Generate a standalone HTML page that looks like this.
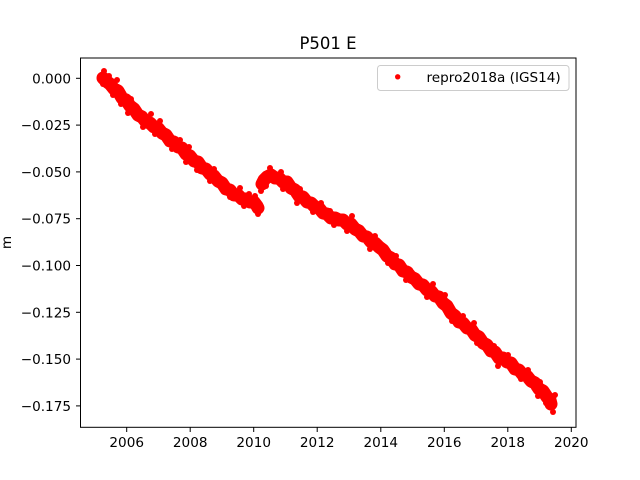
<!DOCTYPE html>
<html><head><meta charset="utf-8"><style>
html,body{margin:0;padding:0;background:#fff;}
svg{display:block;font-family:"DejaVu Sans","Liberation Sans",sans-serif;}
</style></head><body>
<svg width="640" height="480" viewBox="0 0 640 480" xmlns="http://www.w3.org/2000/svg">
<rect width="640" height="480" fill="#fff"/>
<g fill="none" stroke="#ff0000" stroke-width="13" stroke-linejoin="round" stroke-linecap="round">
<polyline points="103,78 106,81 110,84 114,89 118,91 122,98 126,100 130,106 134,109 138,115 142,117 146,122 150,123 154,127 158,128 162,133 166,135 170,141 174,142 178,147 182,148 186,154 190,156 194,161 198,162 202,168 206,169 210,174 214,176 218,181 222,183 226,189 230,190 234,195 238,195 242,199 246,199 250,202 254,202 257,206 258,208"/>
<polyline points="262,184 264,180 267,177 271,175 275,178 279,178 283,182 287,182 291,188 295,190 299,196 303,197 307,202 311,203 315,207 319,208 323,213 327,214 331,218 335,218 339,220 343,220 347,224 351,224 355,229 359,231 363,236 367,237 371,242 375,243 379,247 383,250 387,256 391,258 395,264 399,265 403,271 407,272 411,277 415,279 419,284 423,285 427,290 431,291 435,296 439,297 443,303 447,306 451,313 455,316 459,322 463,323 467,328 471,329 475,335 479,337 483,343 487,345 491,351 495,352 499,358 503,358 507,362 511,363 515,369 519,370 523,375 527,376 531,381 535,383 539,389 543,391 547,397 550,400 551,404"/>
</g>
<g fill="#ff0000">
<circle cx="104" cy="71" r="3"/><circle cx="109" cy="76" r="3"/><circle cx="117" cy="80" r="3"/><circle cx="103" cy="84" r="3"/><circle cx="113" cy="95" r="3"/><circle cx="121" cy="104" r="3"/><circle cx="131" cy="99" r="3"/><circle cx="128" cy="113" r="3"/><circle cx="143" cy="127" r="3"/><circle cx="151" cy="114" r="3"/><circle cx="160" cy="121" r="3"/><circle cx="155" cy="134" r="3"/><circle cx="172" cy="149" r="3"/><circle cx="180" cy="140" r="3"/><circle cx="189" cy="147" r="3"/><circle cx="186" cy="162" r="3"/><circle cx="197" cy="170" r="3"/><circle cx="214" cy="169" r="3"/><circle cx="210" cy="181" r="3"/><circle cx="230" cy="197" r="3"/><circle cx="240" cy="188" r="3"/><circle cx="249" cy="194" r="3"/><circle cx="244" cy="206" r="3"/><circle cx="258" cy="214" r="3"/><circle cx="255" cy="196" r="3"/>
<circle cx="261" cy="191" r="3"/><circle cx="270" cy="168" r="3"/><circle cx="266" cy="186" r="3"/><circle cx="283" cy="189" r="3"/><circle cx="281" cy="172" r="3"/><circle cx="300" cy="189" r="3"/><circle cx="297" cy="203" r="3"/><circle cx="313" cy="212" r="3"/><circle cx="321" cy="203" r="3"/><circle cx="330" cy="211" r="3"/><circle cx="334" cy="225" r="3"/><circle cx="347" cy="231" r="3"/><circle cx="352" cy="216" r="3"/><circle cx="375" cy="236" r="3"/><circle cx="370" cy="249" r="3"/><circle cx="388" cy="263" r="3"/><circle cx="396" cy="256" r="3"/><circle cx="410" cy="270" r="3"/><circle cx="406" cy="280" r="3"/><circle cx="427" cy="297" r="3"/><circle cx="433" cy="284" r="3"/><circle cx="445" cy="295" r="3"/><circle cx="447" cy="313" r="3"/><circle cx="452" cy="321" r="3"/><circle cx="463" cy="316" r="3"/><circle cx="474" cy="323" r="3"/><circle cx="477" cy="343" r="3"/><circle cx="498" cy="366" r="3"/><circle cx="494" cy="346" r="3"/><circle cx="508" cy="355" r="3"/><circle cx="512" cy="370" r="3"/><circle cx="521" cy="379" r="3"/><circle cx="528" cy="370" r="3"/><circle cx="540" cy="382" r="3"/><circle cx="538" cy="396" r="3"/><circle cx="546" cy="403" r="3"/><circle cx="553" cy="412" r="3"/><circle cx="555" cy="395" r="3"/>
</g>
<rect x="80.5" y="58" width="495.5" height="369.3" fill="none" stroke="#000" stroke-width="1"/>
<g stroke="#000" stroke-width="1">
<line x1="76" y1="78.3" x2="80.5" y2="78.3"/>
<line x1="76" y1="125.1" x2="80.5" y2="125.1"/>
<line x1="76" y1="171.9" x2="80.5" y2="171.9"/>
<line x1="76" y1="218.7" x2="80.5" y2="218.7"/>
<line x1="76" y1="265.5" x2="80.5" y2="265.5"/>
<line x1="76" y1="312.3" x2="80.5" y2="312.3"/>
<line x1="76" y1="359.1" x2="80.5" y2="359.1"/>
<line x1="76" y1="405.9" x2="80.5" y2="405.9"/>
<line x1="126.7" y1="427.3" x2="126.7" y2="432"/>
<line x1="190.2" y1="427.3" x2="190.2" y2="432"/>
<line x1="253.7" y1="427.3" x2="253.7" y2="432"/>
<line x1="317.2" y1="427.3" x2="317.2" y2="432"/>
<line x1="380.8" y1="427.3" x2="380.8" y2="432"/>
<line x1="444.3" y1="427.3" x2="444.3" y2="432"/>
<line x1="507.8" y1="427.3" x2="507.8" y2="432"/>
<line x1="571.3" y1="427.3" x2="571.3" y2="432"/>
</g>
<g font-size="13.6" fill="#000" text-anchor="end">
<text x="71" y="83.3">0.000</text>
<text x="71" y="130.1">−0.025</text>
<text x="71" y="176.9">−0.050</text>
<text x="71" y="223.7">−0.075</text>
<text x="71" y="270.5">−0.100</text>
<text x="71" y="317.3">−0.125</text>
<text x="71" y="364.1">−0.150</text>
<text x="71" y="410.9">−0.175</text>
</g>
<g font-size="13.6" fill="#000" text-anchor="middle">
<text x="126.7" y="447">2006</text>
<text x="190.2" y="447">2008</text>
<text x="253.7" y="447">2010</text>
<text x="317.2" y="447">2012</text>
<text x="380.8" y="447">2014</text>
<text x="444.3" y="447">2016</text>
<text x="507.8" y="447">2018</text>
<text x="571.3" y="447">2020</text>
</g>
<text x="11" y="242.5" font-size="13.6" text-anchor="middle" transform="rotate(-90 11 242.5)">m</text>
<text x="328" y="49" font-size="16.5" text-anchor="middle">P501 E</text>
<rect x="377.5" y="65.5" width="191.5" height="25" rx="3" ry="3" fill="#fff" fill-opacity="0.8" stroke="#cccccc" stroke-width="1"/>
<circle cx="397.7" cy="76.8" r="2.7" fill="#ff0000"/>
<text x="426.5" y="82" font-size="13.6">repro2018a (IGS14)</text>
</svg>
</body></html>
